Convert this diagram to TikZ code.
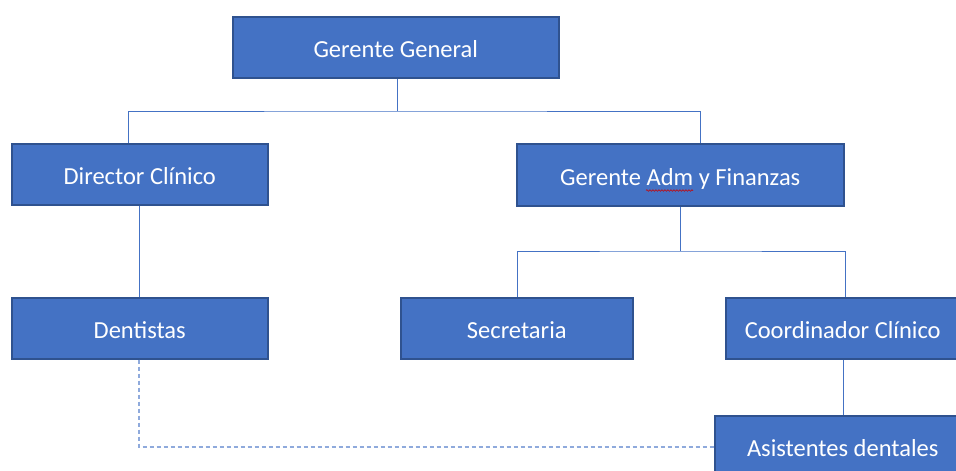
\documentclass[tikz,border=0pt]{standalone}
\usepackage{fontspec}
\setmainfont{Carlito}
\usetikzlibrary{decorations.pathmorphing}
\definecolor{boxfill}{HTML}{4472C4}
\definecolor{boxline}{HTML}{2F528F}
\definecolor{conn}{HTML}{4472C4}
\definecolor{dashc}{HTML}{8FAADC}
\begin{document}
\begin{tikzpicture}[x=1pt,y=-1pt,
  orgbox/.style={draw=boxline,line width=1.5pt,fill=boxfill,text=white,
    font=\fontsize{24.5}{28}\selectfont,inner sep=0pt,anchor=north west,
    text height=24pt,text depth=3.5pt},
  link/.style={draw=conn,line width=0.9pt},
  dlink/.style={draw=dashc,line width=1.4pt,dash pattern=on 4pt off 3pt}]
\useasboundingbox (0,0) rectangle (956,471);
\begin{scope}
\clip (0,0) rectangle (956,471);
\node[orgbox,minimum width=326pt,minimum height=61pt] (gg) at (232,16) {Gerente General};
\node[orgbox,minimum width=256pt,minimum height=61pt] (dc) at (11,143) {Director Clínico};
\node[orgbox,minimum width=327pt,minimum height=62pt] (ga) at (516,143) {Gerente Adm y Finanzas};
\node[orgbox,minimum width=256pt,minimum height=61pt] (de) at (11,297) {Dentistas};
\node[orgbox,minimum width=232pt,minimum height=61pt] (se) at (400,297) {Secretaria};
\node[orgbox,minimum width=234pt,minimum height=61pt] (cc) at (725,297) {Coordinador Clínico};
\node[orgbox,minimum width=256pt,minimum height=61pt] (as) at (714,415) {Asistentes dentales};
\end{scope}
\coordinate (j1) at (397,111);
\coordinate (j2) at (680,251);
% top level
\draw[link] (397,0|-gg.south) -- (j1);
\draw[link] (128,0|-dc.north) |- (j1) -| (700,0|-ga.north);
% second level
\draw[link] (139,0|-dc.south) -- (139,0|-de.north);
\draw[link] (680,0|-ga.south) -- (j2);
\draw[link] (517,0|-se.north) |- (j2) -| (845,0|-cc.north);
\draw[link] (843,0|-cc.south) -- (843,0|-as.north);
% dashed
\draw[dlink] (139,0|-de.south) |- (as.west|-0,447);
% spell-check underline
\draw[red!80!black,line width=0.6pt,decorate,decoration={snake,amplitude=0.8pt,segment length=3pt}] (646,190.5) -- (693,190.5);
\end{tikzpicture}
\end{document}
